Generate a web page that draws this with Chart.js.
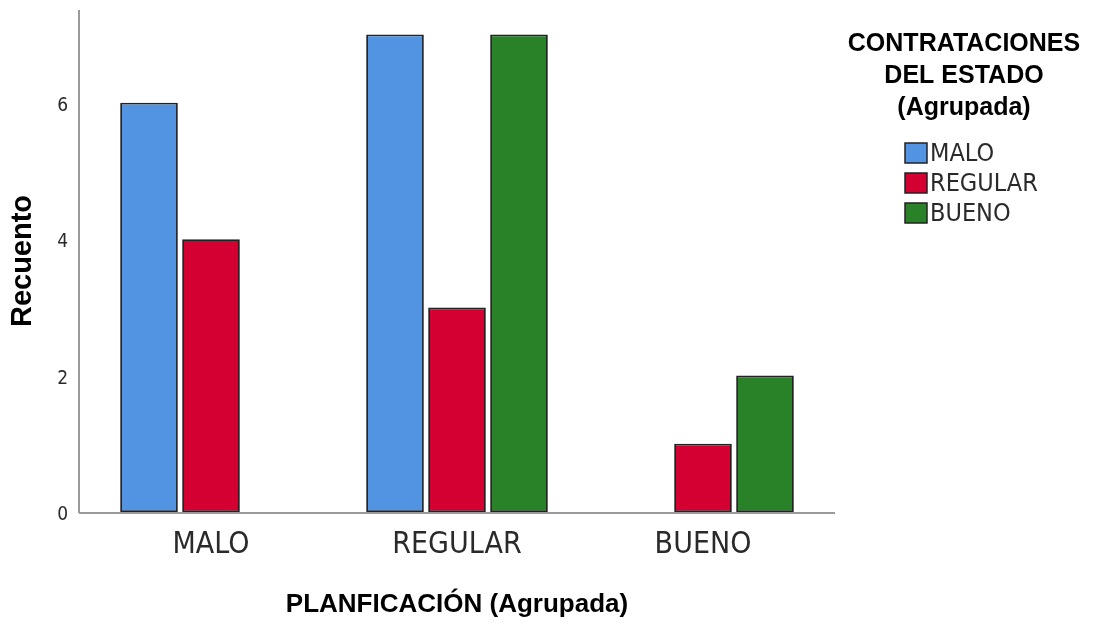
<!DOCTYPE html>
<html>
<head>
<meta charset="utf-8">
<script src="https://cdn.jsdelivr.net/npm/chart.js@4"></script>
<style>
html,body{margin:0;padding:0;background:#fff}
#c{display:block}
</style>
</head>
<body>
<canvas id="c" width="1103" height="624"></canvas>
<script>
// Data
const CATS=["MALO","REGULAR","BUENO"];
const S_MALO=[6,7,null];
const S_REGULAR=[4,3,1];
const S_BUENO=[null,7,2];
const Y_TICKS=[0,2,4,6];
const LEG_TITLE=["CONTRATACIONES","DEL ESTADO","(Agrupada)"];

const NARROW="'Liberation Sans Narrow','Arial Narrow','DejaVu Sans Condensed',sans-serif";
const SANS="'Liberation Sans',Arial,sans-serif";
const AX_CLR="#9a9a9a";

// SPSS axes stick out a bit past the first/last category, draw them by hand
const axesPlug={
  id:"spssAxes",
  afterDatasetsDraw(ch){
    const a=ch.chartArea,ctx=ch.ctx,ext=9;
    ctx.save();
    ctx.strokeStyle=AX_CLR;ctx.lineWidth=2;
    ctx.beginPath();
    ctx.moveTo(a.left-ext,a.top);ctx.lineTo(a.left-ext,a.bottom+1);
    ctx.moveTo(a.left-ext,a.bottom+1);ctx.lineTo(a.right+ext,a.bottom+1);
    ctx.stroke();
    ctx.restore();
  }
};

// legend on the right, drawn by hand (SPSS style: centered title, small squares)
const legendPlug={
  id:"spssLegend",
  afterDraw(ch){
    const ctx=ch.ctx;
    ctx.save();
    ctx.fillStyle="#000";
    ctx.font="bold 25px "+SANS;
    ctx.textAlign="center";ctx.textBaseline="middle";
    LEG_TITLE.forEach((t,i)=>ctx.fillText(t,964,44+i*32));
    ch.data.datasets.forEach((ds,i)=>{
      const y=143+i*30;
      ctx.fillStyle=ds.backgroundColor;
      ctx.fillRect(905,y,22,20);
      ctx.strokeStyle="#222";ctx.lineWidth=1.5;
      ctx.strokeRect(905,y,22,20);
      ctx.fillStyle="#2a2a2a";
      ctx.font="25px "+NARROW;
      ctx.textAlign="left";
      ctx.fillText(ds.label,930,y+11);
    });
    ctx.restore();
  }
};

const mk=(label,data,bg)=>({label,data,backgroundColor:bg,borderColor:"#222",borderWidth:1.8,borderSkipped:false,categoryPercentage:0.756,barPercentage:0.93});

new Chart(document.getElementById("c"),{
  type:"bar",
  data:{labels:CATS,datasets:[
    mk("MALO",S_MALO,"#5294E2"),
    mk("REGULAR",S_REGULAR,"#D50032"),
    mk("BUENO",S_BUENO,"#2A8228")
  ]},
  options:{
    responsive:false,animation:false,
    layout:{padding:{left:0,top:10,right:277,bottom:0}},
    plugins:{legend:{display:false},tooltip:{enabled:false}},
    scales:{
      x:{
        grid:{display:false,drawTicks:false},
        border:{display:false},
        ticks:{color:"#2a2a2a",font:{family:NARROW,size:30},padding:15},
        title:{display:true,text:"PLANFICACIÓN (Agrupada)",color:"#000",font:{family:SANS,size:26,weight:"bold"},padding:{bottom:4}},
        afterFit:s=>{s.height=112;s.paddingLeft=0;s.paddingRight=0;s.paddingTop=0;s.paddingBottom=0}
      },
      y:{
        min:0,max:7.36,
        grid:{display:false,drawTicks:false},
        border:{display:false},
        afterBuildTicks:s=>{s.ticks=Y_TICKS.map(v=>({value:v}))},
        ticks:{color:"#2a2a2a",font:{family:NARROW,size:19},padding:20,labelOffset:3},
        title:{display:true,text:"Recuento",color:"#000",font:{family:SANS,size:29,weight:"bold"},padding:{top:6}},
        afterFit:s=>{s.width=88;s.paddingTop=0;s.paddingBottom=0;s.paddingLeft=0;s.paddingRight=0}
      }
    }
  },
  plugins:[axesPlug,legendPlug]
});
</script>
</body>
</html>
